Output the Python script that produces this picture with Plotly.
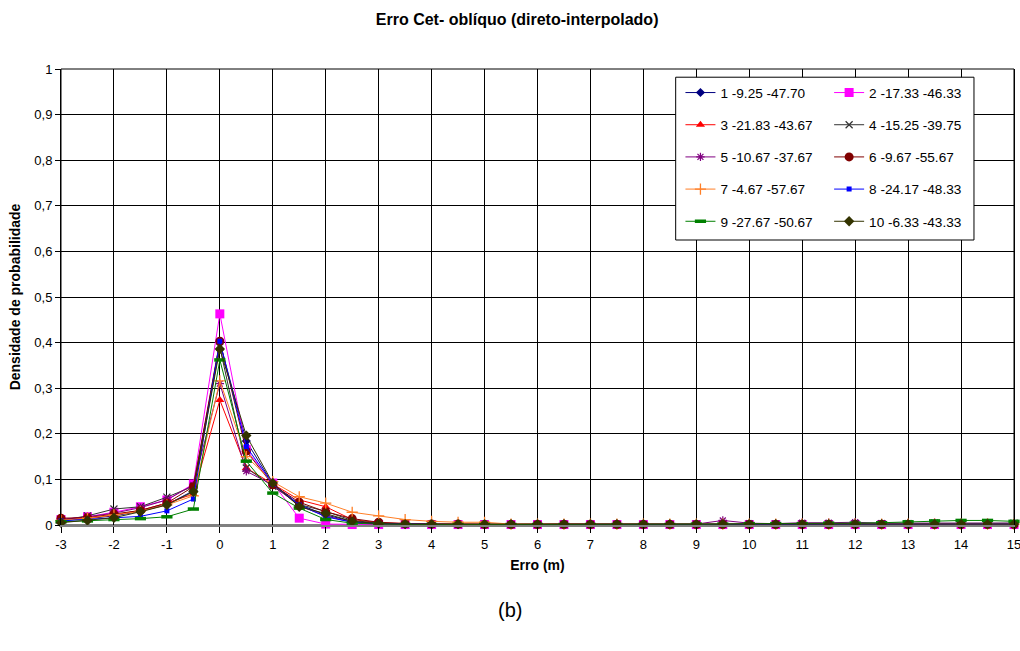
import plotly.graph_objects as go

# Error values (m), sampled every 0.5 m
erro = [-3, -2.5, -2, -1.5, -1, -0.5, 0, 0.5, 1, 1.5, 2, 2.5, 3,
        3.5, 4, 4.5, 5, 5.5, 6, 6.5, 7, 7.5, 8, 8.5, 9, 9.5, 10,
        10.5, 11, 11.5, 12, 12.5, 13, 13.5, 14, 14.5, 15]

# X tick positions and their labels (plain hyphen for negatives)
x_ticks = [-3, -2, -1, 0, 1, 2, 3, 4, 5, 6, 7, 8, 9, 10, 11, 12, 13, 14, 15]
x_tick_text = ["-3", "-2", "-1", "0", "1", "2", "3", "4", "5", "6", "7", "8",
               "9", "10", "11", "12", "13", "14", "15"]

# Probability density for each point (label: id, coordinates)
s1 = [0.010, 0.014, 0.020, 0.030, 0.045, 0.075, 0.401, 0.184, 0.090, 0.045, 0.022, 0.008, 0.003,
      0.002, 0.002, 0.001, 0.001, 0.001, 0.001, 0.001, 0.001, 0.001, 0.001, 0.001, 0.001, 0.002, 0.002,
      0.002, 0.002, 0.002, 0.002, 0.002, 0.003, 0.003, 0.003, 0.003, 0.003]
s2 = [0.012, 0.018, 0.028, 0.040, 0.055, 0.090, 0.463, 0.165, 0.092, 0.015, 0.002, 0.001, 0.001,
      0.001, 0.001, 0.001, 0.001, 0.001, 0.001, 0.001, 0.001, 0.001, 0.001, 0.001, 0.001, 0.001, 0.001,
      0.001, 0.001, 0.001, 0.001, 0.001, 0.001, 0.001, 0.001, 0.001, 0.001]
s3 = [0.012, 0.015, 0.022, 0.032, 0.048, 0.068, 0.274, 0.125, 0.090, 0.055, 0.040, 0.012, 0.005,
      0.003, 0.002, 0.002, 0.001, 0.001, 0.001, 0.001, 0.001, 0.001, 0.001, 0.001, 0.001, 0.001, 0.001,
      0.001, 0.001, 0.001, 0.001, 0.001, 0.001, 0.001, 0.001, 0.001, 0.001]
s4 = [0.010, 0.020, 0.035, 0.040, 0.061, 0.085, 0.390, 0.125, 0.085, 0.045, 0.030, 0.010, 0.004,
      0.002, 0.002, 0.001, 0.001, 0.001, 0.001, 0.001, 0.001, 0.001, 0.001, 0.001, 0.002, 0.002, 0.002,
      0.002, 0.003, 0.003, 0.003, 0.003, 0.003, 0.004, 0.004, 0.004, 0.004]
s5 = [0.012, 0.018, 0.026, 0.038, 0.055, 0.088, 0.310, 0.118, 0.088, 0.042, 0.020, 0.006, 0.002,
      0.001, 0.001, 0.001, 0.001, 0.002, 0.002, 0.003, 0.003, 0.003, 0.002, 0.002, 0.002, 0.010, 0.004,
      0.003, 0.005, 0.005, 0.006, 0.004, 0.004, 0.005, 0.005, 0.005, 0.004]
s6 = [0.015, 0.016, 0.024, 0.032, 0.048, 0.084, 0.403, 0.162, 0.088, 0.050, 0.029, 0.014, 0.006,
      0.003, 0.002, 0.002, 0.001, 0.001, 0.001, 0.001, 0.001, 0.001, 0.001, 0.001, 0.001, 0.001, 0.001,
      0.001, 0.001, 0.001, 0.001, 0.001, 0.001, 0.001, 0.001, 0.001, 0.001]
s7 = [0.010, 0.015, 0.022, 0.030, 0.044, 0.064, 0.316, 0.150, 0.095, 0.062, 0.048, 0.028, 0.020,
      0.012, 0.008, 0.006, 0.006, 0.002, 0.002, 0.002, 0.002, 0.002, 0.002, 0.002, 0.002, 0.002, 0.002,
      0.002, 0.002, 0.002, 0.002, 0.002, 0.002, 0.002, 0.002, 0.002, 0.002]
s8 = [0.009, 0.012, 0.015, 0.019, 0.031, 0.057, 0.403, 0.172, 0.090, 0.044, 0.018, 0.006, 0.003,
      0.002, 0.001, 0.001, 0.001, 0.001, 0.001, 0.001, 0.001, 0.001, 0.001, 0.001, 0.001, 0.001, 0.001,
      0.001, 0.002, 0.002, 0.002, 0.002, 0.002, 0.002, 0.002, 0.002, 0.002]
s9 = [0.007, 0.009, 0.012, 0.014, 0.018, 0.035, 0.362, 0.140, 0.070, 0.037, 0.012, 0.004, 0.002,
      0.001, 0.001, 0.001, 0.001, 0.001, 0.001, 0.001, 0.001, 0.001, 0.001, 0.001, 0.002, 0.002, 0.003,
      0.003, 0.003, 0.004, 0.004, 0.005, 0.007, 0.009, 0.010, 0.010, 0.008]
s10 = [0.005, 0.010, 0.016, 0.029, 0.044, 0.073, 0.386, 0.196, 0.092, 0.040, 0.025, 0.008, 0.003,
       0.002, 0.002, 0.002, 0.002, 0.002, 0.002, 0.002, 0.002, 0.002, 0.002, 0.002, 0.002, 0.002, 0.002,
       0.002, 0.002, 0.002, 0.002, 0.002, 0.002, 0.002, 0.002, 0.002, 0.002]

labels = ["1 -9.25 -47.70", "2 -17.33 -46.33", "3 -21.83 -43.67", "4 -15.25 -39.75",
          "5 -10.67 -37.67", "6 -9.67 -55.67", "7 -4.67 -57.67", "8 -24.17 -48.33",
          "9 -27.67 -50.67", "10 -6.33 -43.33"]
series = [s1, s2, s3, s4, s5, s6, s7, s8, s9, s10]

# Line colour, marker symbol, marker size and marker outline width per series
styles = [
    ("#000080", "diamond", 7, 0),
    ("#FF00FF", "square", 9, 0),
    ("#FF0000", "triangle-up", 8, 0),
    ("#333333", "x-thin", 7, 1.2),
    ("#800080", "asterisk", 7, 1.2),
    ("#800000", "circle", 9, 0),
    ("#FF7F27", "cross-thin", 8, 1.3),
    ("#0000FF", "square", 5, 0),
    ("#008000", "line-ew", 8, 3.5),
    ("#333300", "diamond", 8, 0),
]

FONT = "Liberation Sans, Arial, sans-serif"

fig = go.Figure()
for i, (lab, ys, (col, sym, size, lw)) in enumerate(zip(labels, series, styles)):
    open_sym = sym in ("x-thin", "asterisk", "cross-thin", "line-ew")
    fig.add_trace(go.Scatter(
        x=erro, y=ys, name=lab, mode="lines+markers",
        line=dict(color=col, width=1),
        marker=dict(symbol=sym, size=size, color=col,
                    line=dict(color=col, width=lw if open_sym else 0)),
        cliponaxis=False,
        legend="legend" if i % 2 == 0 else "legend2",
        legendgroup=lab,
    ))

legend_common = dict(
    font=dict(family=FONT, size=13.6, color="black"),
    bgcolor="rgba(0,0,0,0)", borderwidth=0,
    tracegroupgap=11.5, orientation="v",
    xanchor="left", yanchor="top", itemwidth=30,
)

fig.update_layout(
    width=1020, height=651,
    margin=dict(l=61, r=6, t=69, b=126),
    paper_bgcolor="white", plot_bgcolor="white",
    separators=",.",
    font=dict(family=FONT, size=13, color="black"),
    title=dict(text="<b>Erro Cet- oblíquo (direto-interpolado)</b>",
               x=0.507, xref="container", y=0.97, yref="container",
               xanchor="center", yanchor="middle", font=dict(size=16, family=FONT)),
    xaxis=dict(range=[-3, 15], tickvals=x_ticks, ticktext=x_tick_text,
               showgrid=True, gridcolor="black", gridwidth=1, zeroline=False,
               showline=True, linecolor="#808080", linewidth=2,
               ticks="outside", ticklen=6, tickcolor="black",
               tickfont=dict(size=13), ticklabeloverflow="allow",
               automargin=False,
               title=dict(text="<b>Erro (m)</b>", font=dict(size=14), standoff=10)),
    yaxis=dict(range=[0, 1], dtick=0.1, tick0=0, showgrid=True,
               gridcolor="black", gridwidth=1, zeroline=False,
               showline=True, linecolor="black", linewidth=1, mirror=True,
               ticks="outside", ticklen=5, tickcolor="black",
               tickfont=dict(size=13), automargin=False,
               title=dict(text="<b>Densidade de probabilidade</b>",
                          font=dict(size=14), standoff=10)),
    legend=dict(x=0.650, y=0.982, **legend_common),
    legend2=dict(x=0.806, y=0.982, **legend_common),
    shapes=[
        # plot frame
        dict(type="rect", xref="paper", yref="paper", x0=0, x1=1, y0=0, y1=1,
             line=dict(color="black", width=1), layer="below"),
        # legend box
        dict(type="rect", xref="paper", yref="paper",
             x0=0.645, x1=0.958, y0=0.625, y1=0.982,
             line=dict(color="black", width=1), fillcolor="white", layer="above"),
    ],
    annotations=[
        dict(text="(b)", xref="paper", yref="paper", x=0.471, y=-0.186,
             showarrow=False, font=dict(size=20, family=FONT),
             xanchor="center", yanchor="middle"),
    ],
)

fig.write_html("out.html")
